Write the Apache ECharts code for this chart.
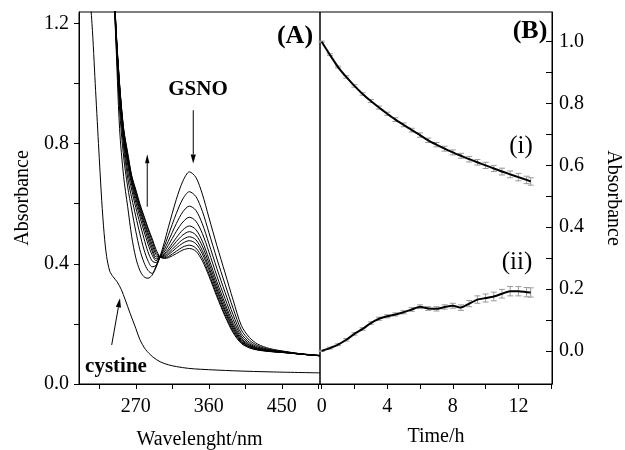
<!DOCTYPE html>
<html>
<head>
<meta charset="utf-8">
<script src="https://cdn.jsdelivr.net/npm/echarts@6/dist/echarts.min.js"></script>
<style>
html,body{margin:0;padding:0;background:#fff;}
#c{width:625px;height:450px;}
</style>
</head>
<body>
<div id="c"></div>
<script>
// ---------- Panel (A): spectra ----------
const wl = [240,245,250,255,260,265,270,275,280,285,290,295,300,305,310,320,328,336,344,352,360,370,380,390,400,410,420,435,455,475,497];
const gsno0 = [1.45,1.17,0.85,0.69,0.59,0.49,0.42,0.378,0.357,0.352,0.362,0.388,0.425,0.47,0.52,0.615,0.675,0.706,0.688,0.632,0.555,0.46,0.37,0.279,0.195,0.155,0.133,0.118,0.108,0.100,0.095];
const gsno1 = [1.49,1.183,0.915,0.756,0.656,0.579,0.508,0.447,0.405,0.378,0.368,0.393,0.424,0.457,0.494,0.568,0.616,0.640,0.624,0.575,0.505,0.416,0.332,0.251,0.180,0.146,0.128,0.115,0.107,0.100,0.095];
const gsno2 = [1.52,1.19,0.944,0.788,0.686,0.619,0.558,0.5,0.448,0.41,0.39,0.395,0.424,0.447,0.475,0.534,0.573,0.592,0.578,0.533,0.468,0.384,0.305,0.230,0.168,0.139,0.124,0.1135,0.106,0.100,0.095];
const gsno3 = [1.54,1.2,0.965,0.81,0.708,0.645,0.587,0.535,0.485,0.44,0.41,0.404,0.424,0.439,0.461,0.508,0.539,0.555,0.542,0.501,0.440,0.359,0.284,0.2145,0.1595,0.134,0.121,0.112,0.106,0.099,0.094];
const gsno4 = [1.556,1.205,0.975,0.822,0.728,0.661,0.604,0.557,0.509,0.466,0.43,0.41,0.424,0.433,0.449,0.487,0.513,0.526,0.514,0.475,0.417,0.340,0.268,0.202,0.153,0.130,0.119,0.111,0.105,0.099,0.094];
const gsno5 = [1.567,1.21,0.983,0.83,0.74,0.67,0.617,0.57,0.525,0.481,0.443,0.416,0.423,0.429,0.442,0.474,0.496,0.507,0.496,0.459,0.403,0.327,0.257,0.194,0.148,0.128,0.117,0.110,0.105,0.099,0.094];
const gsno6 = [1.577,1.212,0.987,0.836,0.749,0.678,0.627,0.579,0.537,0.494,0.454,0.423,0.423,0.426,0.435,0.462,0.481,0.490,0.480,0.444,0.390,0.316,0.247,0.187,0.144,0.125,0.116,0.1095,0.1045,0.099,0.094];
const gsno7 = [1.585,1.215,0.994,0.841,0.756,0.683,0.634,0.587,0.545,0.504,0.465,0.43,0.423,0.423,0.430,0.4525,0.469,0.477,0.467,0.433,0.380,0.307,0.240,0.181,0.141,0.124,0.115,0.109,0.104,0.099,0.094];
const gsno8 = [1.594,1.218,0.997,0.848,0.764,0.689,0.641,0.594,0.555,0.515,0.477,0.438,0.423,0.420,0.424,0.442,0.456,0.462,0.4526,0.4195,0.368,0.297,0.231,0.175,0.138,0.1215,0.114,0.1085,0.104,0.099,0.094];
const gsno9 = [1.6,1.22,1.0,0.85,0.77,0.693,0.647,0.6,0.56,0.52,0.485,0.447,0.423,0.418,0.42,0.434,0.446,0.451,0.442,0.41,0.36,0.29,0.225,0.17,0.135,0.12,0.113,0.108,0.104,0.099,0.094];
const gsnoCurves = [gsno0,gsno1,gsno2,gsno3,gsno4,gsno5,gsno6,gsno7,gsno8,gsno9];

const cysWl = [210,216,220,224,228,231,234,238,242,247,252,257,263,270,275,282,291,300,310,320,335,350,390,440,497];
const cysA  = [1.4,1.2,1.0,0.8,0.61,0.5,0.425,0.375,0.357,0.34,0.315,0.28,0.235,0.185,0.148,0.115,0.09,0.074,0.064,0.058,0.052,0.049,0.044,0.04,0.037];

const wlTicks = [225,270,315,360,405,450,495];
const wlLabels = [270,360,450];
const absTicksA = [0,0.2,0.4,0.6,0.8,1.0,1.2];
const absLabelsA = [0,0.4,0.8,1.2];

// ---------- Panel (B): kinetics ----------
const time = [0,0.5,1,1.5,2,2.5,3,3.5,4,4.5,5,5.5,6,6.5,7,7.5,8,8.5,9,9.5,10,10.5,11,11.5,12,12.5,12.75];
const seriesI  = [1.0,0.958,0.918,0.886,0.857,0.831,0.808,0.787,0.767,0.748,0.731,0.714,0.698,0.681,0.667,0.654,0.642,0.631,0.62,0.61,0.6,0.59,0.58,0.571,0.562,0.553,0.548];
const seriesII = [0.0,0.009,0.02,0.036,0.055,0.071,0.09,0.104,0.112,0.118,0.125,0.134,0.143,0.137,0.136,0.142,0.146,0.14,0.153,0.166,0.171,0.176,0.185,0.193,0.193,0.19,0.189];
const errI  = [0.002,0.003,0.003,0.004,0.004,0.004,0.005,0.005,0.005,0.006,0.006,0.006,0.007,0.007,0.007,0.008,0.008,0.008,0.009,0.009,0.01,0.01,0.011,0.011,0.012,0.012,0.012];
const errII = [0.002,0.003,0.003,0.004,0.004,0.004,0.004,0.005,0.005,0.005,0.005,0.006,0.006,0.006,0.007,0.007,0.008,0.009,0.01,0.012,0.013,0.014,0.014,0.015,0.015,0.015,0.015];

const timeTicks = [0,2,4,6,8,10,12,14];
const timeLabels = [0,4,8,12];
const absTicksB = [0,0.1,0.2,0.3,0.4,0.5,0.6,0.7,0.8,0.9,1.0];
const absLabelsB = [0,0.2,0.4,0.6,0.8,1.0];

const FONT = "'Liberation Serif','Times New Roman',serif";

const chart = echarts.init(document.getElementById('c'), null, {renderer:'canvas'});

function errData(vals, errs){
  return time.map((t,i)=>[t, vals[i]-errs[i], vals[i]+errs[i]]);
}
function errRender(params, api){
  const x = api.value(0);
  const p1 = api.coord([x, api.value(1)]);
  const p2 = api.coord([x, api.value(2)]);
  const w = 3;
  const st = {stroke:'#9a9a9a', lineWidth:1};
  return {type:'group', children:[
    {type:'line', shape:{x1:p1[0],y1:p1[1],x2:p2[0],y2:p2[1]}, style:st},
    {type:'line', shape:{x1:p1[0]-w,y1:p1[1],x2:p1[0]+w,y2:p1[1]}, style:st},
    {type:'line', shape:{x1:p2[0]-w,y1:p2[1],x2:p2[0]+w,y2:p2[1]}, style:st}
  ]};
}

const axisTxt = {color:'#000', fontFamily:FONT, fontSize:20};
const series = [];
gsnoCurves.forEach((c,k)=>{
  series.push({type:'line', xAxisIndex:0, yAxisIndex:0, data: wl.map((w,i)=>[w,c[i]]),
    symbol:'none', smooth:0.3, lineStyle:{color:'#000', width:1}, clip:true, z:3});
});
series.push({type:'line', xAxisIndex:0, yAxisIndex:0, data: cysWl.map((w,i)=>[w,cysA[i]]),
  symbol:'none', smooth:0.3, lineStyle:{color:'#000', width:1}, clip:true, z:3});
series.push({type:'custom', xAxisIndex:1, yAxisIndex:1, data: errData(seriesI, errI), renderItem: errRender, z:2});
series.push({type:'custom', xAxisIndex:1, yAxisIndex:1, data: errData(seriesII, errII), renderItem: errRender, z:2});
series.push({type:'line', xAxisIndex:1, yAxisIndex:1, data: time.map((t,i)=>[t,seriesI[i]]),
  symbol:'none', smooth:0.2, lineStyle:{color:'#000', width:2}, z:4});
series.push({type:'line', xAxisIndex:1, yAxisIndex:1, data: time.map((t,i)=>[t,seriesII[i]]),
  symbol:'none', smooth:0.2, lineStyle:{color:'#000', width:2}, z:4});

chart.setOption({
  animation:false,
  backgroundColor:'#fff',
  grid:[
    {left:79, top:12, width:241, height:372, show:true, borderColor:'#000', borderWidth:1, backgroundColor:'transparent', containLabel:false, outerBoundsMode:'none'},
    {left:320, top:12, width:232, height:372, show:true, borderColor:'#000', borderWidth:1, backgroundColor:'transparent', containLabel:false, outerBoundsMode:'none'}
  ],
  xAxis:[
    {type:'value', gridIndex:0, min:200, max:497,
     axisLine:{show:true, onZero:false, lineStyle:{color:'#000', width:1}},
     axisTick:{show:true, inside:false, length:5, customValues:wlTicks, lineStyle:{color:'#000'}},
     axisLabel:{show:true, margin:13, customValues:wlLabels, ...axisTxt},
     splitLine:{show:false},
     name:'Wavelenght/nm', nameLocation:'middle', nameGap:46, nameTextStyle:axisTxt},
    {type:'value', gridIndex:1, min:-0.1, max:14.05,
     axisLine:{show:true, onZero:false, lineStyle:{color:'#000', width:1}},
     axisTick:{show:true, inside:false, length:5, customValues:timeTicks, lineStyle:{color:'#000'}},
     axisLabel:{show:true, margin:13, customValues:timeLabels, ...axisTxt},
     splitLine:{show:false},
     name:'Time/h', nameLocation:'middle', nameGap:43, nameTextStyle:axisTxt}
  ],
  yAxis:[
    {type:'value', gridIndex:0, min:0, max:1.238, position:'left',
     axisLine:{show:true, onZero:false, lineStyle:{color:'#000', width:1}},
     axisTick:{show:true, inside:false, length:5, customValues:absTicksA, lineStyle:{color:'#000'}},
     axisLabel:{show:true, margin:10, customValues:absLabelsA, formatter:v=>v.toFixed(1), ...axisTxt},
     splitLine:{show:false},
     name:'Absorbance', nameLocation:'middle', nameGap:46, nameRotate:90, nameTextStyle:axisTxt},
    {type:'value', gridIndex:1, min:-0.107, max:1.096, position:'right',
     axisLine:{show:true, onZero:false, lineStyle:{color:'#000', width:1}},
     axisTick:{show:true, inside:true, length:6, customValues:absTicksB, lineStyle:{color:'#000'}},
     axisLabel:{show:true, margin:7, customValues:absLabelsB, formatter:v=>v.toFixed(1), ...axisTxt},
     splitLine:{show:false},
     name:'Absorbance', nameLocation:'middle', nameGap:51, nameRotate:-90, nameTextStyle:axisTxt}
  ],
  series: series
});

// ---------- annotations ----------
function arrow(p1, p2, headLen, headW){
  const dx = p2[0]-p1[0], dy = p2[1]-p1[1];
  const L = Math.sqrt(dx*dx+dy*dy);
  const ux = dx/L, uy = dy/L;
  const bx = p2[0]-ux*headLen, by = p2[1]-uy*headLen;
  const nx = -uy, ny = ux;
  return [
    {type:'line', shape:{x1:p1[0],y1:p1[1],x2:bx,y2:by}, style:{stroke:'#000', lineWidth:1}, z:10},
    {type:'polygon', shape:{points:[[p2[0],p2[1]],[bx+nx*headW,by+ny*headW],[bx-nx*headW,by-ny*headW]]}, style:{fill:'#000'}, z:10}
  ];
}
const pA = (d)=>chart.convertToPixel({gridIndex:0}, d);
const els = [];
els.push(...arrow(pA([340.8,0.911]), pA([340.8,0.734]), 9, 2.6));
els.push(...arrow(pA([284.1,0.59]), pA([284.1,0.765]), 9, 2.2));
els.push(...arrow(pA([240.3,0.13]), pA([250.5,0.285]), 9, 2.6));

function txt(x, y, s, size, bold){
  return {type:'text', x:x, y:y, z:11, style:{text:s, fill:'#000',
    font:(bold?'bold ':'')+size+'px '+FONT, align:'center', verticalAlign:'middle',
    textAlign:'center', textVerticalAlign:'middle'}};
}
els.push(txt(295, 36, '(A)', 26, true));
els.push(txt(530, 31, '(B)', 26, true));
els.push(txt(198, 90, 'GSNO', 21, true));
els.push(txt(116, 367, 'cystine', 21, true));
els.push(txt(521, 146, '(i)', 25, false));
els.push(txt(517, 262, '(ii)', 25, false));
chart.setOption({graphic:{elements:els}});
</script>
</body>
</html>
